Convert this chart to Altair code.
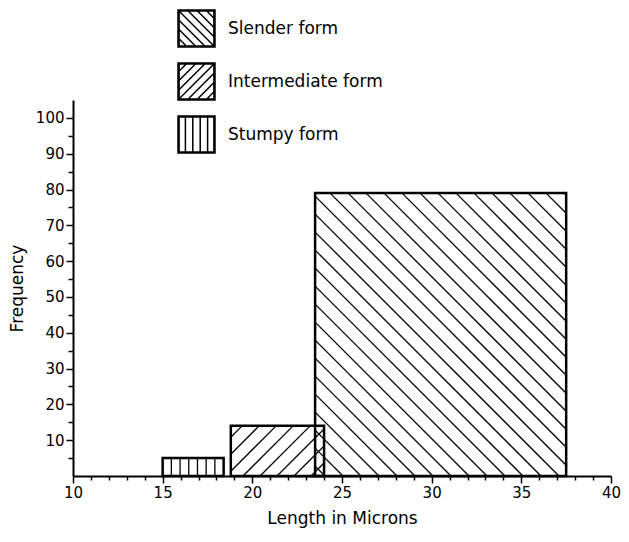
import math
import altair as alt
import pandas as pd

# ---- data ----
forms = ["Slender form", "Intermediate form", "Stumpy form"]
x_start = [23.5, 18.8, 15.0]
x_end = [37.5, 24.0, 18.4]
freq = [79, 14, 5]
hatch_kind = ["back", "fwd", "vert"]
hatch_gap_px = [18.0, 17.0, 8.7]

x_ticks = list(range(10, 41))
y_ticks = list(range(5, 101, 5))

X_DOM = [10, 40]
Y_DOM = [0, 105]
W, H = 538, 376
sx = W / (X_DOM[1] - X_DOM[0])
sy = H / (Y_DOM[1] - Y_DOM[0])

bars = pd.DataFrame({"form": forms, "x0": x_start, "x1": x_end, "freq": freq})

# ---- hatch segments derived from bar extents ----
segs = []
for f, a, b, h, kind, gap in zip(forms, x_start, x_end, freq, hatch_kind, hatch_gap_px):
    u0, u1 = (a - X_DOM[0]) * sx, (b - X_DOM[0]) * sx
    v0, v1 = 0.0, h * sy
    if kind == "vert":
        u = u0 + gap
        while u < u1 - 2:
            segs.append((f, u, v0, u, v1))
            u += gap
    elif kind == "back":
        c = math.ceil((u0 + v0) / gap) * gap
        while c < u1 + v1:
            ua, ub = max(u0, c - v1), min(u1, c - v0)
            if ub > ua:
                segs.append((f, ua, c - ua, ub, c - ub))
            c += gap
    else:
        c = math.ceil((u0 - v1) / gap) * gap
        while c < u1 - v0:
            ua, ub = max(u0, c + v0), min(u1, c + v1)
            if ub > ua:
                segs.append((f, ua, ua - c, ub, ub - c))
            c += gap

hatch = pd.DataFrame(
    {
        "form": [s[0] for s in segs],
        "hx0": [X_DOM[0] + s[1] / sx for s in segs],
        "hy0": [s[2] / sy for s in segs],
        "hx1": [X_DOM[0] + s[3] / sx for s in segs],
        "hy1": [s[4] / sy for s in segs],
    }
)

# ---- legend swatch paths (unit square -1..1) ----
def swatch(kind):
    p = "M-1,-1H1V1H-1Z M-0.94,-0.94H0.94V0.94H-0.94Z"
    if kind == "vert":
        for x in [-0.6, -0.2, 0.2, 0.6]:
            p += f" M{x},-1L{x},1"
    elif kind == "back":
        for c in [-1.5, -1.0, -0.5, 0.0, 0.5, 1.0, 1.5]:
            xa, xb = max(-1, -1 + c), min(1, 1 + c)
            p += f" M{xa},{xa - c}L{xb},{xb - c}"
    else:
        for c in [-1.5, -1.0, -0.5, 0.0, 0.5, 1.0, 1.5]:
            xa, xb = max(-1, c - 1), min(1, c + 1)
            p += f" M{xa},{c - xa}L{xb},{c - xb}"
    return p

paths = [swatch(k) for k in hatch_kind]

FONT = "DejaVu Sans"

x_axis = alt.Axis(
    values=x_ticks,
    labelExpr="datum.value % 5 === 0 ? datum.label : ''",
    tickSize={"condition": {"test": "datum.value % 5 === 0", "value": 7}, "value": 4},
    labelFlush=False,
    labelOverlap=False,
    labelPadding=2,
    title="Length in Microns",
    titlePadding=10,
)
y_axis = alt.Axis(
    values=y_ticks,
    labelExpr="datum.value % 10 === 0 ? datum.label : ''",
    tickSize={"condition": {"test": "datum.value % 10 === 0", "value": 7}, "value": 5},
    labelOverlap=False,
    labelPadding=2,
    title="Frequency",
    titlePadding=9,
)
xs = alt.Scale(domain=X_DOM, nice=False, zero=False)
ys = alt.Scale(domain=Y_DOM, nice=False)

hatch_layer = alt.Chart(hatch).mark_rule(color="black", strokeWidth=1.3).encode(
    x=alt.X("hx0:Q", scale=xs, axis=x_axis),
    x2="hx1:Q",
    y=alt.Y("hy0:Q", scale=ys, axis=y_axis),
    y2="hy1:Q",
)

bar_layer = alt.Chart(bars).mark_rect(
    fill="transparent", stroke="black", strokeWidth=2.5
).encode(
    x=alt.X("x0:Q", scale=xs, axis=x_axis),
    x2="x1:Q",
    y=alt.Y("freq:Q", scale=ys, axis=y_axis),
    y2=alt.datum(0),
)

legend_layer = alt.Chart(bars).mark_point(
    filled=False, color="black", opacity=1, clip=True
).encode(
    x=alt.value(-200),
    y=alt.value(-200),
    shape=alt.Shape(
        "form:N",
        scale=alt.Scale(domain=forms, range=paths),
        legend=alt.Legend(
            title=None,
            orient="none",
            legendX=104,
            legendY=-91,
            padding=0,
            symbolSize=1369,
            symbolStrokeWidth=1.5,
            symbolStrokeColor="black",
            symbolFillColor="transparent",
            labelFont=FONT,
            labelFontSize=17,
            labelColor="black",
            labelOffset=12,
            rowPadding=10,
        ),
    ),
)

chart = (
    alt.layer(hatch_layer, bar_layer, legend_layer)
    .properties(
        width=W,
        height=H,
        padding={"left": 65, "top": 92, "right": 10, "bottom": 54},
        autosize=alt.AutoSizeParams(type="none"),
        background="white",
    )
    .configure_view(stroke=None)
    .configure_axis(
        grid=False,
        domainColor="black",
        domainWidth=2,
        tickColor="black",
        tickWidth=1.5,
        labelColor="black",
        labelFont=FONT,
        labelFontSize=15,
        titleFont=FONT,
        titleFontSize=17,
        titleFontWeight="normal",
        titleColor="black",
    )
)

chart.save("out.html", embed_options={"renderer": "svg", "actions": False})
